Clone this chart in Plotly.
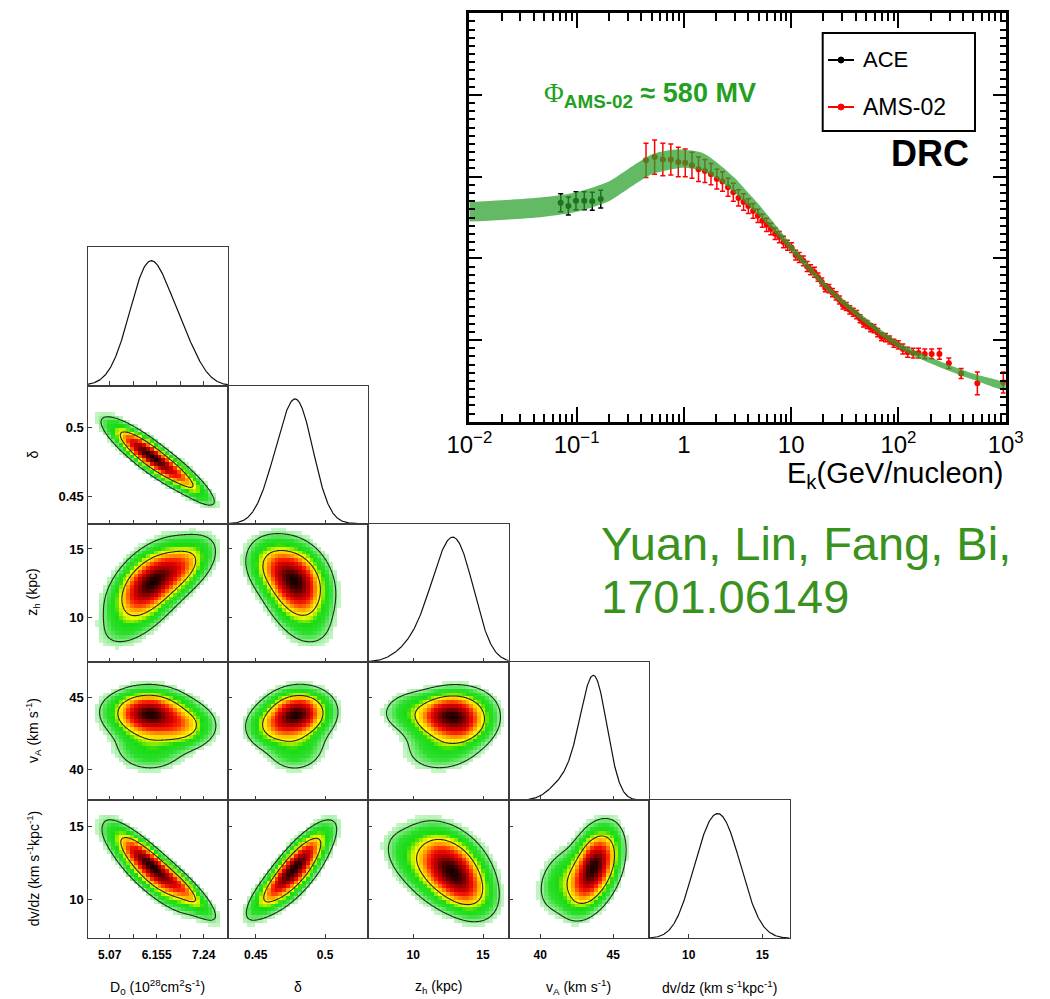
import numpy as np
import plotly.graph_objects as go

W, H = 1050, 999
FONT = "Liberation Sans, Arial, Helvetica, sans-serif"

# ---------------- B/C ratio versus kinetic energy ----------------
ACE_E = [0.0711, 0.0838, 0.0987, 0.118, 0.140, 0.168]
ACE_BC = [0.268, 0.264, 0.2705, 0.2705, 0.270, 0.2725]
ACE_ERR = [0.011, 0.011, 0.011, 0.011, 0.011, 0.011]

AMS_E = [
    0.444, 0.534, 0.637, 0.756, 0.887, 1.03, 1.19, 1.37, 1.57, 1.79,
    2.03, 2.29, 2.58, 2.89, 3.23, 3.60, 3.99, 4.42, 4.89, 5.38,
    5.90, 6.47, 7.09, 7.76, 8.48, 9.25, 10.1, 11.0, 11.9, 13.0,
    14.1, 15.2, 16.5, 17.8, 19.3, 20.8, 22.5, 24.3, 26.2, 28.2,
    30.4, 32.7, 35.2, 37.9, 40.8, 43.9, 47.3, 51.1, 55.1, 59.3,
    64.1, 69.6, 75.8, 82.8, 90.8, 99.8, 110, 122, 137, 154,
    176, 204, 241, 295, 384, 544, 950]
AMS_BC = [
    0.320, 0.324, 0.321, 0.321, 0.318, 0.317, 0.314, 0.309, 0.307, 0.303,
    0.297, 0.294, 0.287, 0.281, 0.274, 0.269, 0.264, 0.258, 0.252, 0.246,
    0.241, 0.236, 0.230, 0.226, 0.220, 0.216, 0.213, 0.204, 0.201, 0.197,
    0.190, 0.186, 0.183, 0.177, 0.171, 0.164, 0.163, 0.158, 0.154, 0.149,
    0.143, 0.141, 0.137, 0.134, 0.131, 0.126, 0.121, 0.119, 0.115, 0.114,
    0.109, 0.104, 0.103, 0.100, 0.096, 0.094, 0.089, 0.085, 0.084, 0.084,
    0.083, 0.083, 0.083, 0.0715, 0.059, 0.047, 0.048]
AMS_ERR = [
    0.021, 0.021, 0.020, 0.019, 0.018, 0.017, 0.016, 0.015, 0.014, 0.013,
    0.012, 0.012, 0.011, 0.011, 0.010, 0.010, 0.009, 0.009, 0.008, 0.008,
    0.008, 0.007, 0.007, 0.007, 0.007, 0.006, 0.006, 0.006, 0.006, 0.006,
    0.006, 0.006, 0.006, 0.005, 0.005, 0.005, 0.005, 0.005, 0.005, 0.005,
    0.005, 0.005, 0.005, 0.005, 0.005, 0.005, 0.005, 0.005, 0.005, 0.005,
    0.005, 0.005, 0.005, 0.005, 0.005, 0.005, 0.006, 0.006, 0.006, 0.006,
    0.006, 0.006, 0.0065, 0.0065, 0.006, 0.014, 0.013]

# model band (best fit +- uncertainty)
BAND_E = [0.01, 0.02, 0.05, 0.1, 0.2, 0.3, 0.5, 0.7, 1.0, 1.5, 2.0, 3.0,
          4.0, 5.0, 7.0, 10, 20, 30, 50, 100, 200, 500, 1000]
BAND_MID = [0.257, 0.259, 0.263, 0.269, 0.282, 0.297, 0.315, 0.320, 0.322,
            0.318, 0.308, 0.289, 0.272, 0.259, 0.237, 0.213, 0.169, 0.147,
            0.123, 0.094, 0.075, 0.055, 0.043]
BAND_HALF = [0.012, 0.012, 0.012, 0.012, 0.012, 0.012, 0.012, 0.012, 0.011,
             0.011, 0.010, 0.009, 0.008, 0.007, 0.0055, 0.0048, 0.0037,
             0.0037, 0.0037, 0.0037, 0.0037, 0.0037, 0.0037]

X_TICKS = [0.01, 0.1, 1, 10, 100, 1000]
X_TICK_TEXT = ["10<sup>\u22122</sup>", "10<sup>\u22121</sup>", "1", "10",
               "10<sup>2</sup>", "10<sup>3</sup>"]

# ---------------- posterior of the propagation parameters ----------------
PAR_RANGES = [[4.557, 7.80], [0.430, 0.531], [6.78, 16.84], [37.85, 47.45], [7.30, 16.85]]
PAR_TICKS = [[5.07, 5.6125, 6.155, 6.6975, 7.24], [0.45, 0.5], [10, 15], [40, 45], [10, 15]]
PAR_TICK_TEXT = [["5.07", " ", "6.155", " ", "7.24"], ["0.45", "0.5"], ["10", "15"],
                 ["40", "45"], ["10", "15"]]
BOTTOM_TITLES = ["D<sub>0</sub> (10<sup>28</sup>cm<sup>2</sup>s<sup>-1</sup>)", "\u03b4",
                 "z<sub>h</sub> (kpc)", "v<sub>A</sub> (km s<sup>-1</sup>)",
                 "dv/dz (km s<sup>-1</sup>kpc<sup>-1</sup>)"]
LEFT_TITLES = ["", "\u03b4", "z<sub>h</sub> (kpc)", "v<sub>A</sub> (km s<sup>-1</sup>)",
               "dv/dz (km s<sup>-1</sup>kpc<sup>-1</sup>)"]

# posterior summarised as a mixture of Gaussian components
# parameter order: D0, delta, z_h, v_A, dv/dz
MIX_WEIGHTS = [0.62, 0.20, 0.13, 0.05]
MIX_MEANS = [[6.00, 0.480, 12.5, 43.8, 12.4],
             [6.75, 0.464, 13.7, 43.0, 10.8],
             [6.00, 0.479, 12.2, 41.6, 11.3],
             [5.55, 0.487, 9.6, 44.1, 13.0]]
MIX_SIGMAS = [[0.44, 0.0115, 1.4, 0.85, 1.3],
              [0.38, 0.0105, 1.1, 0.8, 1.1],
              [0.45, 0.0115, 1.5, 0.95, 1.2],
              [0.42, 0.0110, 1.1, 0.75, 1.1]]
PAIR_RHO = {(0, 1): -0.87, (0, 2): 0.50, (1, 2): -0.20, (0, 3): 0.00, (1, 3): 0.05,
            (2, 3): 0.15, (0, 4): -0.87, (1, 4): 0.80, (2, 4): -0.35, (3, 4): 0.30}

DENSITY_SCALE = [
    [0.00, "#e4fbe4"], [0.03, "#bff5bf"], [0.06, "#6fea6f"], [0.10, "#2ede2e"],
    [0.18, "#16dc10"], [0.24, "#a8ec00"], [0.30, "#ffff00"], [0.38, "#ffcc00"],
    [0.46, "#ff8a00"], [0.56, "#ff2a00"], [0.68, "#dd0000"], [0.80, "#a00000"],
    [0.90, "#5a0000"], [1.00, "#180000"]]


def px(x):
    return x / W


def py(y):
    return 1 - y / H


def pdf1(i, x):
    tot = np.zeros_like(x)
    for w, m, s in zip(MIX_WEIGHTS, MIX_MEANS, MIX_SIGMAS):
        tot += w / s[i] * np.exp(-0.5 * ((x - m[i]) / s[i]) ** 2)
    return tot


def pdf2(ix, iy, X, Y):
    rho = PAIR_RHO[(min(ix, iy), max(ix, iy))]
    tot = np.zeros_like(X)
    for w, m, s in zip(MIX_WEIGHTS, MIX_MEANS, MIX_SIGMAS):
        u = (X - m[ix]) / s[ix]
        v = (Y - m[iy]) / s[iy]
        q = (u * u - 2 * rho * u * v + v * v) / (1 - rho * rho)
        tot += w / (s[ix] * s[iy] * np.sqrt(1 - rho * rho)) * np.exp(-0.5 * q)
    return tot


def hpd_levels(z, probs):
    flat = np.sort(z.ravel())[::-1]
    cdf = np.cumsum(flat)
    cdf /= cdf[-1]
    return [flat[min(np.searchsorted(cdf, p), flat.size - 1)] for p in probs]


fig = go.Figure()
layout = dict(width=W, height=H,
              margin=dict(l=0, r=0, t=0, b=0, pad=0, autoexpand=False),
              paper_bgcolor="white", plot_bgcolor="white", showlegend=False)

# ---- spectrum panel ----
fig.add_trace(go.Scatter(
    x=AMS_E, y=AMS_BC, mode="markers", xaxis="x", yaxis="y",
    marker=dict(color="#ff0000", size=6),
    error_y=dict(type="data", array=AMS_ERR, color="#ff0000", thickness=1.5, width=2.5),
    hoverinfo="skip"))
fig.add_trace(go.Scatter(
    x=ACE_E, y=ACE_BC, mode="markers", xaxis="x", yaxis="y",
    marker=dict(color="#000000", size=6),
    error_y=dict(type="data", array=ACE_ERR, color="#000000", thickness=1.5, width=2.5),
    hoverinfo="skip"))
band_x = BAND_E + BAND_E[::-1]
band_y = ([m + h for m, h in zip(BAND_MID, BAND_HALF)]
          + [m - h for m, h in zip(BAND_MID[::-1], BAND_HALF[::-1])])
fig.add_trace(go.Scatter(
    x=band_x, y=band_y, mode="lines", fill="toself", xaxis="x", yaxis="y",
    fillcolor="rgba(40,160,40,0.72)", line=dict(width=0, shape="spline", smoothing=0.8),
    hoverinfo="skip"))

x_minor = [m * 10.0 ** k for k in range(-2, 3) for m in range(2, 10)]
layout["xaxis"] = dict(
    type="log", range=[-2, 3], domain=[px(469.3), px(1005.7)], anchor="y",
    automargin=False,
    showline=True, linecolor="black", linewidth=2.5, mirror="allticks",
    ticks="inside", ticklen=15, tickwidth=2, tickcolor="black",
    tickmode="array", tickvals=X_TICKS, ticktext=X_TICK_TEXT,
    tickfont=dict(family=FONT, size=24, color="black"), ticklabelstandoff=0,
    minor=dict(ticks="inside", ticklen=8, tickwidth=2, tickcolor="black",
               tickmode="array", tickvals=x_minor, showgrid=False),
    showgrid=False, zeroline=False)
layout["yaxis"] = dict(
    range=[0, 0.5], domain=[py(421.7), py(13.3)], anchor="x", automargin=False,
    showline=True, linecolor="black", linewidth=2.5, mirror="allticks",
    ticks="inside", ticklen=13, tickwidth=2, tickcolor="black",
    tickmode="array", tickvals=[0, 0.1, 0.2, 0.3, 0.4, 0.5], showticklabels=False,
    minor=dict(ticks="inside", ticklen=6, tickwidth=2, tickcolor="black",
               tickmode="array", tickvals=[round(0.01 * i, 2) for i in range(51)],
               showgrid=False),
    showgrid=False, zeroline=False)

# ---- corner plot ----
X0, CW = 87.5, 140.4
Y0, RH = 247.3, 138.2
NB = 36
NF = 160
FRAME = "#3c3c3c"
DIAG_TOP = 1 / 0.903

k = 2
for r in range(5):
    for c in range(r + 1):
        xn, yn = f"x{k}", f"y{k}"
        xd = [px(X0 + c * CW), px(X0 + (c + 1) * CW)]
        yd = [py(Y0 + (r + 1) * RH), py(Y0 + r * RH)]
        xr = PAR_RANGES[c]
        xa = dict(domain=xd, anchor=yn, range=xr, automargin=False, showline=True,
                  linecolor=FRAME, linewidth=1.3, mirror=True, ticks="inside",
                  ticklen=4, tickwidth=1, tickcolor=FRAME, tickmode="array",
                  tickvals=PAR_TICKS[c], ticktext=PAR_TICK_TEXT[c],
                  showticklabels=(r == 4),
                  tickfont=dict(family=FONT, size=12, color="black", weight="bold"),
                  ticklabelstandoff=5, showgrid=False, zeroline=False)
        if r == c:
            xs = np.linspace(xr[0], xr[1], 400)
            ys = pdf1(c, xs)
            ys = ys / ys.max()
            fig.add_trace(go.Scatter(x=xs, y=ys, mode="lines", xaxis=xn, yaxis=yn,
                                     line=dict(color="#111111", width=1.2),
                                     hoverinfo="skip"))
            ya = dict(domain=yd, anchor=xn, range=[0, DIAG_TOP], automargin=False,
                      showline=True, linecolor=FRAME, linewidth=1.3, mirror=True,
                      ticks="", showticklabels=False, showgrid=False, zeroline=False)
        else:
            yr = PAR_RANGES[r]
            # coarse cells for the shaded density
            ex = np.linspace(xr[0], xr[1], NB + 1)
            ey = np.linspace(yr[0], yr[1], NB + 1)
            cx = 0.5 * (ex[1:] + ex[:-1])
            cy = 0.5 * (ey[1:] + ey[:-1])
            CX, CY = np.meshgrid(cx, cy)
            zc = pdf2(c, r, CX, CY)
            # fine grid for the credible contours
            fx = np.linspace(xr[0], xr[1], NF)
            fy = np.linspace(yr[0], yr[1], NF)
            FX, FY = np.meshgrid(fx, fy)
            zf = pdf2(c, r, FX, FY)
            zmax = zf.max()
            zc = zc / zmax
            zf = zf / zmax
            zc = np.where(zc < 0.025, np.nan, zc)
            fig.add_trace(go.Heatmap(x=cx, y=cy, z=zc, xaxis=xn, yaxis=yn,
                                     colorscale=DENSITY_SCALE, zmin=0, zmax=1,
                                     showscale=False, hoverinfo="skip"))
            l68, l95 = hpd_levels(zf, [0.683, 0.954])
            fig.add_trace(go.Contour(x=fx, y=fy, z=zf, xaxis=xn, yaxis=yn,
                                     autocontour=False,
                                     contours=dict(start=l95, end=l68, size=l68 - l95,
                                                   coloring="none"),
                                     line=dict(color="#262626", width=1.1, smoothing=1.0),
                                     showscale=False, hoverinfo="skip"))
            ya = dict(domain=yd, anchor=xn, range=yr, automargin=False, showline=True,
                      linecolor=FRAME, linewidth=1.3, mirror=True, ticks="inside",
                      ticklen=4, tickwidth=1, tickcolor=FRAME, tickmode="array",
                      tickvals=PAR_TICKS[r], ticktext=PAR_TICK_TEXT[r],
                      showticklabels=(c == 0),
                      tickfont=dict(family=FONT, size=13, color="black", weight="bold"),
                      showgrid=False, zeroline=False)
        layout[f"xaxis{k}"] = xa
        layout[f"yaxis{k}"] = ya
        k += 1

annotations = []
for c in range(5):
    annotations.append(dict(
        x=px(X0 + (c + 0.5) * CW), y=py(986.7), xref="paper", yref="paper",
        text=BOTTOM_TITLES[c], showarrow=False, xanchor="center", yanchor="middle",
        font=dict(family=FONT, size=14, color="black")))
for r in range(1, 5):
    annotations.append(dict(
        x=px(33), y=py(Y0 + (r + 0.5) * RH), xref="paper", yref="paper",
        text=LEFT_TITLES[r], showarrow=False, textangle=-90, xanchor="center",
        yanchor="middle", font=dict(family=FONT, size=14, color="black")))

# spectrum labels
annotations += [
    dict(x=px(1005), y=py(475), xref="paper", yref="paper",
         text="E<sub>k</sub>(GeV/nucleon)", showarrow=False, xanchor="right",
         yanchor="middle", font=dict(family=FONT, size=29, color="black")),
    dict(x=px(649.5), y=py(95), xref="paper", yref="paper",
         text=("<span style='font-family:Liberation Serif'>\u03a6</span>"
               "<sub><b>AMS-02</b></sub><b> \u2248 580 MV</b>"),
         showarrow=False, xanchor="center", yanchor="middle",
         font=dict(family=FONT, size=27, color="#22a022")),
    dict(x=px(930), y=py(154), xref="paper", yref="paper", text="<b>DRC</b>",
         showarrow=False, xanchor="center", yanchor="middle",
         font=dict(family=FONT, size=36, color="black")),
    dict(x=px(861), y=py(60), xref="paper", yref="paper", text="ACE",
         showarrow=False, xanchor="left", yanchor="middle",
         font=dict(family=FONT, size=22, color="black")),
    dict(x=px(861), y=py(107), xref="paper", yref="paper", text="AMS-02",
         showarrow=False, xanchor="left", yanchor="middle",
         font=dict(family=FONT, size=23, color="black")),
    dict(x=px(599), y=py(543), xref="paper", yref="paper", text="Yuan, Lin, Fang, Bi,",
         showarrow=False, xanchor="left", yanchor="middle",
         font=dict(family=FONT, size=47, color="#3a921e")),
    dict(x=px(599), y=py(596), xref="paper", yref="paper", text="1701.06149",
         showarrow=False, xanchor="left", yanchor="middle",
         font=dict(family=FONT, size=47, color="#3a921e")),
]

shapes = [
    dict(type="rect", xref="paper", yref="paper", x0=px(822.7), x1=px(975),
         y0=py(131), y1=py(33), line=dict(color="black", width=2), fillcolor="white",
         layer="above"),
    dict(type="line", xref="paper", yref="paper", x0=px(828), x1=px(854),
         y0=py(60), y1=py(60), line=dict(color="black", width=2)),
    dict(type="circle", xref="paper", yref="paper", x0=px(838), x1=px(844),
         y0=py(63), y1=py(57), line=dict(color="black", width=1), fillcolor="black"),
    dict(type="line", xref="paper", yref="paper", x0=px(828), x1=px(854),
         y0=py(107), y1=py(107), line=dict(color="#ff0000", width=2)),
    dict(type="circle", xref="paper", yref="paper", x0=px(838), x1=px(844),
         y0=py(110), y1=py(104), line=dict(color="#ff0000", width=1), fillcolor="#ff0000"),
]

layout["annotations"] = annotations
layout["shapes"] = shapes
fig.update_layout(**layout)
fig.write_html("out.html")
